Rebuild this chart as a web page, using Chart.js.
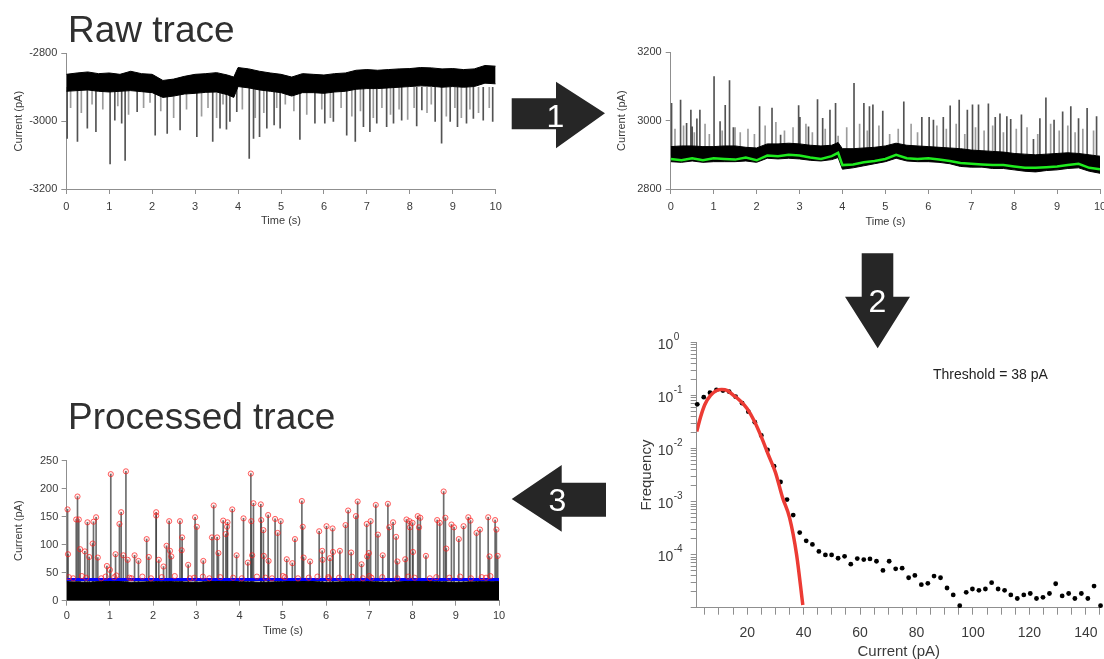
<!DOCTYPE html>
<html><head><meta charset="utf-8">
<script src="https://cdn.jsdelivr.net/npm/chart.js@4/dist/chart.umd.min.js"></script>
<style>
html,body{margin:0;padding:0;background:#fff;}
body{width:1104px;height:659px;overflow:hidden;position:relative;}
canvas{position:absolute;}
#ov{position:absolute;left:0;top:0;pointer-events:none;}
</style></head>
<body>
<canvas id="c1" width="510" height="192" style="left:0;top:40px"></canvas>
<canvas id="c2" width="520" height="193" style="left:600px;top:40px"></canvas>
<canvas id="c3" width="480" height="335" style="left:630px;top:330px"></canvas>
<canvas id="c4" width="510" height="200" style="left:0;top:440px"></canvas>
<svg id="ov" width="1104" height="659" font-family="'Liberation Sans', Arial, Helvetica, sans-serif">
  <text x="68" y="42" font-size="37" fill="#303030">Raw trace</text>
  <text x="68" y="429" font-size="37" fill="#303030">Processed trace</text>
  <text x="933" y="379" font-size="14" fill="#222">Threshold = 38 pA</text>
  <polygon points="511.7,98.3 556,98.3 556,81.7 605,113.3 556,148.3 556,129.3 511.7,129.3" fill="#262626"/>
  <text x="555.5" y="126.5" font-size="32" fill="#fff" text-anchor="middle">1</text>
  <polygon points="861.7,253.3 893.3,253.3 893.3,296.7 910,296.7 877.7,348.3 845,296.7 861.7,296.7" fill="#262626"/>
  <text x="877.5" y="311.5" font-size="32" fill="#fff" text-anchor="middle">2</text>
  <polygon points="511.7,499 561.7,465 561.7,482.7 606,482.7 606,516.7 561.7,516.7 561.7,531.7" fill="#262626"/>
  <text x="557.5" y="511" font-size="32" fill="#fff" text-anchor="middle">3</text>
</svg>
<script>
// ---------------- DATA ----------------
const timeTicks = [0,1,2,3,4,5,6,7,8,9,10];
const rawYTicks = [-3200,-3000,-2800];
const invYTicks = [2800,3000,3200];
const procYTicks = [0,50,100,150,200,250];
const histXTicks = [5,10,15,20,25,30,35,40,45,50,55,60,65,70,75,80,85,90,95,100,105,110,115,120,125,130,135,140,145];
const histXLabels = [20,40,60,80,100,120,140];
const histDecadeExp = [0,-1,-2,-3,-4];

// noise band of the raw / inverted traces (time grid, s)
const bandT = [0,0.25,0.5,0.75,1,1.25,1.5,1.75,2,2.25,2.5,2.75,3,3.25,3.5,3.75,3.9,4,4.25,4.5,4.75,5,5.25,5.5,5.75,6,6.25,6.5,6.75,7,7.25,7.5,7.75,8,8.25,8.5,8.75,9,9.25,9.5,9.75,10];
const rawTop = [-2862,-2858,-2855,-2860,-2858,-2862,-2853,-2860,-2862,-2880,-2876,-2868,-2862,-2860,-2857,-2864,-2870,-2842,-2846,-2853,-2858,-2862,-2870,-2860,-2862,-2864,-2860,-2858,-2850,-2848,-2850,-2848,-2846,-2845,-2842,-2843,-2846,-2845,-2848,-2846,-2836,-2838];
const rawBottom = [-2912,-2910,-2908,-2912,-2914,-2912,-2910,-2913,-2916,-2930,-2926,-2920,-2918,-2915,-2914,-2922,-2930,-2898,-2902,-2908,-2912,-2916,-2926,-2916,-2916,-2918,-2914,-2912,-2906,-2904,-2904,-2902,-2900,-2898,-2896,-2897,-2900,-2898,-2900,-2898,-2888,-2890];
const invTop = [2924,2926,2926,2924,2924,2926,2926,2922,2920,2932,2932,2934,2932,2928,2926,2928,2936,2918,2918,2920,2922,2926,2934,2928,2926,2924,2922,2920,2918,2914,2912,2910,2908,2904,2902,2900,2902,2904,2906,2904,2900,2896];
const invBottom = [2880,2878,2882,2878,2880,2880,2880,2882,2878,2890,2888,2890,2888,2884,2882,2886,2892,2858,2862,2868,2874,2880,2890,2882,2880,2880,2878,2874,2866,2864,2864,2860,2860,2856,2852,2850,2854,2856,2860,2862,2852,2846];
const greenBase = [2888,2884,2890,2884,2890,2888,2886,2892,2884,2898,2896,2900,2898,2892,2888,2896,2906,2870,2872,2878,2882,2888,2900,2890,2888,2890,2886,2882,2876,2874,2872,2870,2870,2866,2862,2862,2864,2866,2870,2874,2862,2858];

// events in the raw trace (downward)
const rawSpikeT = [0.02,0.26,0.49,0.69,1.02,1.13,1.29,1.37,1.65,2.07,2.35,2.65,3.04,3.41,3.58,3.73,3.81,3.97,4.26,4.36,4.50,4.67,4.84,4.98,5.44,5.79,6.02,6.22,6.53,6.73,6.92,7.07,7.23,7.46,7.62,7.81,8.16,8.28,8.59,8.74,8.94,9.11,9.32,9.48,9.71,9.93];
const rawSpikeV = [-3051,-3060,-3021,-3031,-3126,-2997,-3006,-3116,-2972,-3041,-3036,-3026,-3046,-3060,-3021,-3024,-3001,-2972,-3110,-3051,-3046,-3021,-3011,-3021,-3054,-3006,-3006,-3001,-3041,-3060,-3016,-3031,-3006,-3016,-3006,-2997,-3014,-2967,-3001,-3065,-3001,-3016,-3006,-2992,-2997,-3001];
const rawShortT = [0.1,0.35,0.6,0.85,1.2,1.45,1.8,1.95,2.2,2.5,2.8,3.15,3.3,3.5,3.65,4.1,4.4,4.6,4.9,5.1,5.3,5.6,5.95,6.15,6.4,6.65,6.85,7.15,7.35,7.55,7.75,7.95,8.1,8.4,8.5,8.85,9.05,9.2,9.4,9.6,9.85];
const rawShortV = [-2960,-2975,-2950,-2965,-2955,-2980,-2960,-2945,-2970,-2990,-2965,-2985,-2960,-2990,-2950,-2965,-2990,-2975,-2960,-2950,-2970,-2980,-2965,-2990,-2960,-2985,-2970,-2990,-2960,-2980,-2965,-2995,-2960,-2975,-2950,-2985,-2960,-2990,-2965,-2975,-2960];

// events in the inverted trace (upward)
const invSpikeT = [0.02,0.23,0.37,0.47,0.50,0.61,0.68,1.01,1.15,1.27,1.37,1.46,2.07,2.36,2.56,2.98,3.01,3.21,3.42,3.54,3.71,3.84,4.27,4.50,4.63,4.71,4.94,5.43,5.85,6.02,6.12,6.35,6.51,6.72,6.91,7.03,7.17,7.40,7.56,7.67,7.83,7.92,8.17,8.45,8.60,8.74,8.93,9.13,9.32,9.50,9.70,9.92];
const invSpikeV = [3051,3060,2992,3031,2982,3005,3031,3129,2997,3045,3117,2980,3041,3037,2958,3044,3010,2982,3062,3007,3031,3051,3109,3051,3041,3046,3028,3055,3010,3010,3002,3010,3043,3060,3031,3046,3046,3049,3010,3020,3012,3004,3017,2945,3006,3067,3002,3026,3041,3006,3036,3012];
const invShortT = [0.1,0.3,0.55,0.8,0.9,1.2,1.5,1.62,1.8,1.95,2.2,2.45,2.65,2.85,3.15,3.3,3.6,3.9,4.1,4.4,4.58,4.85,5.1,5.3,5.6,5.75,6.2,6.42,6.65,6.85,7.1,7.3,7.5,7.75,8.05,8.3,8.55,8.85,9.05,9.25,9.42,9.6,9.85];
const invShortV = [2975,2985,2965,2990,2960,2970,2980,2965,2975,2960,2985,2995,2970,2980,2990,2965,2975,2955,2980,2990,2970,2985,2960,2975,2990,2965,2985,2975,2990,2960,2980,2970,2985,2965,2975,2980,2960,2990,2970,2985,2965,2975,2970];

// histogram of the processed trace
const histX = [2.3,4.6,6.8,9.1,11.4,13.6,15.9,18.2,20.4,22.7,25.0,27.2,29.5,31.8,34.1,36.3,38.6,40.9,43.1,45.4,47.7,49.9,52.2,54.5,56.7,59.0,61.3,63.5,65.8,68.1,70.3,72.6,74.9,77.2,79.4,81.7,84.0,86.2,88.5,90.8,93.0,95.3,97.6,99.8,102.1,104.4,106.6,108.9,111.2,113.4,115.7,118.0,120.3,122.5,124.8,127.1,129.3,131.6,133.9,136.1,138.4,140.7,142.9,145.2];
const histY = [0.068,0.093,0.113,0.127,0.124,0.118,0.095,0.0716,0.0494,0.0313,
  0.0176,0.0094,0.00465,0.00234,0.00109,0.000557,0.000261,0.000182,0.000156,0.000115,
  0.0000986,0.0000986,0.0000855,0.0000931,0.000066,0.0000842,0.0000807,0.000083,0.0000751,0.0000503,
  0.0000751,0.000054,0.0000555,0.0000367,0.0000405,0.0000272,0.0000288,0.0000394,0.0000367,0.0000235,
  0.0000174,0.0000109,0.0000195,0.0000225,0.0000213,0.0000225,0.0000296,0.0000225,0.0000213,0.0000174,
  0.0000149,0.0000174,0.0000185,0.0000149,0.0000157,0.0000185,0.0000283,0.0000167,0.0000185,0.0000149,
  0.0000185,0.0000149,0.0000256,0.0000109];
const fitX = [2.1,3.5,5,7,9,11,13,15,17.5,20,22.5,25,27.5,30,32.5,35,37.5,39.7];
const fitY = [0.0209,0.0398,0.0676,0.100,0.123,0.129,0.123,0.102,0.0794,0.0562,0.0331,0.0166,0.00759,0.00355,0.00120,0.00050,0.0001,0.0000112];

// processed trace: detected events (pA above baseline)
const procT = [0.02,0.03,0.22,0.25,0.28,0.31,0.42,0.48,0.52,0.60,
  0.62,0.68,0.72,0.93,1.00,1.02,1.13,1.22,1.26,1.31,
  1.37,1.41,1.57,1.66,1.85,1.90,2.07,2.07,2.13,2.24,
  2.31,2.37,2.39,2.42,2.62,2.66,2.67,2.81,2.97,3.01,
  3.16,3.36,3.40,3.48,3.51,3.62,3.68,3.71,3.72,3.83,
  3.93,4.09,4.19,4.26,4.27,4.29,4.32,4.49,4.50,4.55,
  4.56,4.66,4.67,4.82,4.88,4.95,5.09,5.22,5.28,5.44,
  5.46,5.48,5.63,5.84,5.91,5.92,6.01,6.09,6.15,6.16,
  6.32,6.45,6.51,6.58,6.69,6.73,6.82,6.94,6.95,6.99,
  7.03,7.15,7.20,7.31,7.43,7.46,7.55,7.62,7.65,7.83,
  7.86,7.93,7.94,8.00,8.01,8.12,8.15,8.18,8.31,8.57,
  8.63,8.72,8.76,8.78,8.90,8.96,9.07,9.18,9.29,9.34,
  9.48,9.56,9.75,9.78,9.91,9.94,9.97];
const procV = [163,83,145,186,145,92,88,140,78,102,
  141,149,77,62,55,226,83,137,158,81,
  231,73,81,71,110,78,158,152,73,61,
  98,142,89,79,142,90,113,64,149,132,
  71,113,170,113,85,143,119,132,140,163,
  81,147,68,227,142,81,174,172,144,126,
  80,153,71,146,121,142,74,67,110,178,
  132,77,70,124,89,73,133,76,129,87,
  89,135,161,86,151,177,65,137,79,85,
  142,171,118,81,173,131,140,114,70,74,
  145,142,131,139,87,151,131,148,80,144,
  139,195,148,93,136,131,110,133,149,143,
  121,127,149,79,144,127,80];
const procSmallT = [0.05,0.15,0.35,0.45,0.8,0.9,1.1,1.15,1.45,1.5,1.75,1.95,2.2,2.5,2.85,2.95,3.15,3.3,3.55,3.85,4.05,4.4,4.6,4.75,5.0,5.05,5.35,5.6,5.8,6.05,6.07,6.3,6.6,6.85,7.0,7.05,7.3,7.65,7.9,8.05,8.4,8.55,8.85,9.1,9.35,9.6,9.7,9.8];
const procSmallV = [42,40,44,41,40,43,42,45,41,40,43,40,42,44,40,41,43,40,42,41,40,43,41,40,44,42,40,41,43,42,40,41,43,40,44,41,42,40,43,41,40,42,41,43,40,42,41,44];
const procBandT = [0,0.5,1,1.5,2,2.5,3,3.5,4,4.5,5,5.5,6,6.5,7,7.5,8,8.5,9,9.5,10];
const procBandTop = [34,33,35,33,34,34,33,35,34,33,34,35,33,34,34,33,35,34,33,34,34];
const thresholdT = [0,10];
const thresholdV = [38,38];

// ---------------- CHARTS ----------------
const FONT = "'Liberation Sans', Arial, Helvetica, sans-serif";
Chart.defaults.font.family = FONT;
Chart.defaults.color = '#3a3a3a';
const AX = '#8f8f8f';
const pts = (xs, ys) => xs.map((x, i) => ({x: x, y: ys[i]}));
const bars = (xs, ys, base) => xs.map((x, i) => ({x: x, y: [base, ys[i]]}));

function axis(o) {
  return {
    type: o.type || 'linear', min: o.min, max: o.max, offset: false,
    afterBuildTicks: s => { s.ticks = o.ticks.map(v => ({value: v})); },
    afterFit: s => { if (s.isHorizontal()) s.height = o.size; else s.width = o.size; },
    grid: {display: true, drawOnChartArea: false, drawTicks: true, tickLength: o.tickLen, color: AX, tickColor: AX, offset: false},
    border: {display: true, color: AX, width: 1},
    ticks: {padding: o.tickPad, font: {size: o.fontSize}, color: '#3a3a3a', maxRotation: 0, minRotation: 0, autoSkip: false,
            callback: o.label || (v => String(v))},
    title: {display: !!o.title, text: o.title, font: {size: o.titleSize || o.fontSize}, color: '#3a3a3a',
            padding: {top: o.titlePad, bottom: o.titlePad}}
  };
}
function baseOpts(padding, x, y) {
  return {
    responsive: false, animation: false, devicePixelRatio: 1, events: [],
    layout: {padding: padding},
    plugins: {legend: {display: false}, tooltip: {enabled: false}},
    scales: {x: x, y: y}
  };
}
const lineDs = (data, color, width, extra) => Object.assign({type: 'line', data: data, borderColor: color, borderWidth: width,
  pointRadius: 0, tension: 0, fill: false}, extra || {});
const barDs = (data, color, extra) => Object.assign({type: 'bar', data: data, backgroundColor: color, borderWidth: 0,
  barThickness: 1, grouped: false}, extra || {});

// Panel 1: raw trace
new Chart(document.getElementById('c1'), {
  type: 'line',
  data: {datasets: [
    lineDs(pts(bandT, rawTop), '#000', 1, {order: 2}),
    lineDs(pts(bandT, rawBottom), '#000', 1, {order: 2, fill: '-1', backgroundColor: '#000'}),
    barDs(bars(rawSpikeT, rawSpikeV, -2900), 'rgba(40,40,40,0.8)', {order: 3}),
    barDs(bars(rawShortT, rawShortV, -2900), 'rgba(90,90,90,0.6)', {order: 3})
  ]},
  options: baseOpts({left: 0, top: 13.3, right: 14.3, bottom: 0},
    axis({min: 0, max: 10, ticks: timeTicks, size: 43, tickLen: 5, tickPad: 6, fontSize: 11, title: 'Time (s)', titlePad: 4.4}),
    axis({min: -3200, max: -2800, ticks: rawYTicks, size: 66.3, tickLen: 5, tickPad: 4, fontSize: 11, title: 'Current (pA)', titlePad: 12.4}))
});

// Panel 2: inverted trace with baseline
new Chart(document.getElementById('c2'), {
  type: 'line',
  data: {datasets: [
    lineDs(pts(bandT, greenBase), 'rgb(30,235,30)', 2.5, {order: 0}),
    lineDs(pts(bandT, invTop), '#000', 1, {order: 2}),
    lineDs(pts(bandT, invBottom), '#000', 1, {order: 2, fill: '-1', backgroundColor: '#000'}),
    barDs(bars(invSpikeT, invSpikeV, 2900), 'rgba(40,40,40,0.8)', {order: 3}),
    barDs(bars(invShortT, invShortV, 2900), 'rgba(90,90,90,0.6)', {order: 3})
  ]},
  options: baseOpts({left: 0, top: 12.3, right: 20, bottom: 0},
    axis({min: 0, max: 10, ticks: timeTicks, size: 44, tickLen: 5, tickPad: 6, fontSize: 11, title: 'Time (s)', titlePad: 4.1}),
    axis({min: 2800, max: 3200, ticks: invYTicks, size: 70.7, tickLen: 5, tickPad: 4, fontSize: 11, title: 'Current (pA)', titlePad: 15.4}))
});

// Panel 3: histogram (log)
const decadeLabels = {
  id: 'decadeLabels',
  afterDraw(chart) {
    const s = chart.scales.y, ctx = chart.ctx;
    const xr = chart.chartArea.left - 23.5;
    ctx.save();
    ctx.fillStyle = '#3a3a3a';
    histDecadeExp.forEach(e => {
      const y = s.getPixelForValue(Math.pow(10, e));
      ctx.font = '14px ' + FONT; ctx.textAlign = 'right'; ctx.textBaseline = 'middle';
      ctx.fillText('10', xr, y + 2.5);
      ctx.font = '10px ' + FONT; ctx.textAlign = 'left';
      ctx.fillText(String(e), xr + 0.5, y - 5);
    });
    ctx.restore();
  }
};
const histYTicks = [];
[-5,-4,-3,-2,-1].forEach(e => { for (let m = 1; m <= 9; m++) histYTicks.push(m * Math.pow(10, e)); });
histYTicks.push(1);
new Chart(document.getElementById('c3'), {
  type: 'line',
  data: {datasets: [
    lineDs(pts(fitX, fitY), '#ec3b34', 3.5, {order: 0, cubicInterpolationMode: 'monotone'}),
    lineDs(pts(histX, histY), '#000', 0, {order: 1, showLine: false, pointRadius: 2.4, pointBackgroundColor: '#000', pointBorderWidth: 0, clip: false})
  ]},
  options: baseOpts({left: 0, top: 10.7, right: 8.3, bottom: 0},
    axis({min: 2.1, max: 145.3, ticks: histXTicks, size: 57.3, tickLen: 7, tickPad: 10, fontSize: 14, titleSize: 15, title: 'Current (pA)', titlePad: 4.3,
          label: v => histXLabels.includes(v) ? String(v) : ''}),
    axis({type: 'logarithmic', min: 0.00001, max: 1, ticks: histYTicks, size: 66.7, tickLen: 6, tickPad: 4, fontSize: 14, titleSize: 15, title: 'Frequency', titlePad: 7.7,
          label: () => ''})),
  plugins: [decadeLabels]
});

// Panel 4: processed trace
new Chart(document.getElementById('c4'), {
  type: 'line',
  data: {datasets: [
    lineDs(pts(procT, procV), 'rgba(255,0,0,0.6)', 0, {order: 0, showLine: false, pointRadius: 2.6, pointBorderWidth: 1,
      pointBorderColor: 'rgba(255,30,30,0.7)', pointBackgroundColor: 'rgba(255,0,0,0.06)', clip: false}),
    lineDs(pts(procSmallT, procSmallV), 'rgba(255,0,0,0.6)', 0, {order: 0, showLine: false, pointRadius: 2.6, pointBorderWidth: 1,
      pointBorderColor: 'rgba(255,30,30,0.7)', pointBackgroundColor: 'rgba(255,0,0,0.06)'}),
    lineDs(pts(thresholdT, thresholdV), '#0000ff', 3, {order: 1}),
    lineDs(pts(procBandT, procBandTop), '#000', 1, {order: 2, fill: 'origin', backgroundColor: '#000'}),
    barDs(bars(procT, procV, 30), 'rgba(60,60,60,0.75)', {order: 3})
  ]},
  options: baseOpts({left: 0, top: 20.7, right: 11, bottom: 0},
    axis({min: 0, max: 10, ticks: timeTicks, size: 39.3, tickLen: 5, tickPad: 4, fontSize: 11, title: 'Time (s)', titlePad: 2.4}),
    axis({min: 0, max: 250, ticks: procYTicks, size: 66.7, tickLen: 5, tickPad: 3.4, fontSize: 11, title: 'Current (pA)', titlePad: 12.4}))
});
</script>
</body></html>
